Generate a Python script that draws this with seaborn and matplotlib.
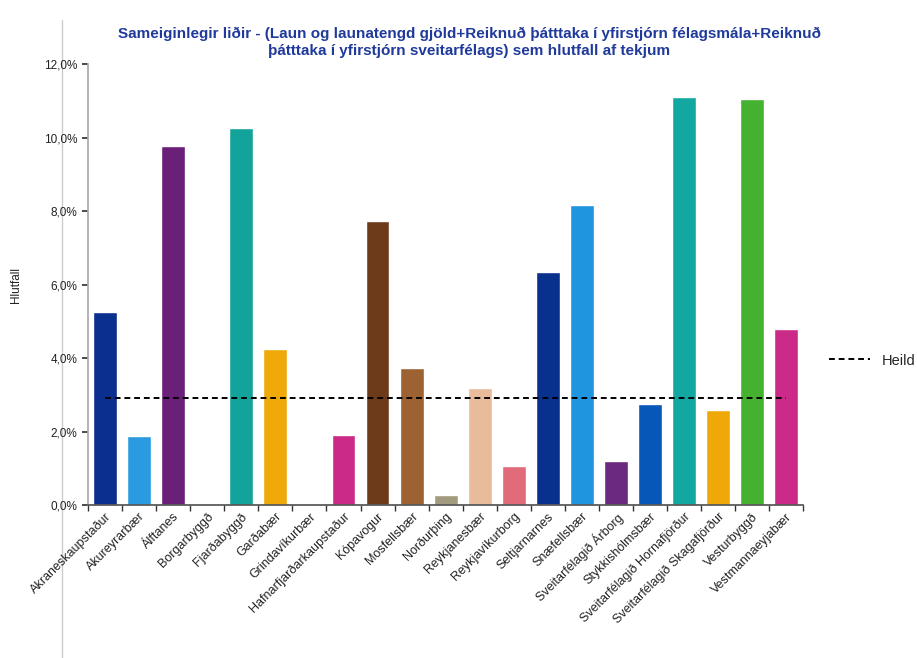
import matplotlib
matplotlib.use("Agg")
import matplotlib.pyplot as plt
import matplotlib.lines as mlines
from matplotlib.ticker import FuncFormatter
import pandas as pd
import seaborn as sns

# Data
categories = [
    "Akraneskaupstaður", "Akureyrarbær", "Álftanes", "Borgarbyggð",
    "Fjarðabyggð", "Garðabær", "Grindavíkurbær", "Hafnarfjarðarkaupstaður",
    "Kópavogur", "Mosfellsbær", "Norðurþing", "Reykjanesbær",
    "Reykjavíkurborg", "Seltjarnarnes", "Snæfellsbær",
    "Sveitarfélagið Árborg", "Stykkishólmsbær",
    "Sveitarfélagið Hornafjörður", "Sveitarfélagið Skagafjörður",
    "Vesturbyggð", "Vestmannaeyjabær",
]
values = [5.25, 1.88, 9.77, 0.0, 10.26, 4.24, 0.0, 1.90, 7.73, 3.73, 0.27,
          3.18, 1.06, 6.34, 8.16, 1.20, 2.75, 11.10, 2.58, 11.05, 4.79]
heild = 2.91
bar_colors = [
    "#0a2f8f", "#2a9be0", "#6a1f78", "#cccccc", "#14a39b", "#efaa0a",
    "#cccccc", "#cc2a88", "#6e3b1a", "#9c6232", "#a39b7d", "#e8bb9a",
    "#e26b7a", "#08318e", "#1f95df", "#6b2a80", "#0757b8", "#12a8a1",
    "#efa80a", "#45b131", "#cc2a88",
]
title = ("Sameiginlegir liðir - (Laun og launatengd gjöld+Reiknuð þátttaka í yfirstjórn félagsmála+Reiknuð\n"
         "þátttaka í yfirstjórn sveitarfélags) sem hlutfall af tekjum")

df = pd.DataFrame({"cat": categories, "val": values})

sns.set_theme(style="white")
plt.rcParams["font.family"] = ["Liberation Sans", "DejaVu Sans"]

fig = plt.figure(figsize=(9.17, 6.58), dpi=100)
ax = fig.add_axes([0.096, 0.2325, 0.78, 0.67])

sns.barplot(data=df, x="cat", y="val", hue="cat", palette=bar_colors,
            legend=False, width=0.7, saturation=1, ax=ax)

# average line
ax.plot(range(len(categories)), [heild] * len(categories), color="black",
        linestyle="--", linewidth=1.4, dashes=(3, 2))

ax.set_xlim(-0.5, len(categories) - 0.5)
ax.set_ylim(0, 12)
ax.set_yticks([0, 2, 4, 6, 8, 10, 12])
ax.yaxis.set_major_formatter(FuncFormatter(lambda v, p: f"{v:.1f}%".replace(".", ",")))
ax.tick_params(axis="y", labelsize=8.5, length=4, direction="out", left=True,
               color="#333333", labelcolor="#222222")
ax.set_xticks([i + 0.5 for i in range(-1, len(categories))], minor=True)
ax.set_xticks(range(len(categories)))
ax.set_xticklabels(categories, rotation=45, ha="right", rotation_mode="anchor",
                   fontsize=9, color="#222222")
ax.tick_params(axis="x", which="major", length=0, pad=4)
ax.tick_params(axis="x", which="minor", length=4, direction="out", bottom=True, color="#333333")
ax.set_xlabel("")
ax.set_ylabel("Hlutfall", fontsize=8.5, labelpad=16, color="#222222")

for side in ["top", "right"]:
    ax.spines[side].set_visible(False)
ax.spines["left"].set_color("#aaaaaa")
ax.spines["bottom"].set_color("#555555")

fig.text(0.512, 0.935, title, ha="center", va="center", fontsize=11,
         fontweight="bold", color="#1f3a9a", linespacing=1.25)

# chart-area border line at left
fig.add_artist(mlines.Line2D([0.068, 0.068], [0.0, 0.97], color="#cccccc", linewidth=1,
                             zorder=0))

handle = mlines.Line2D([], [], color="black", linestyle="--", linewidth=1.4, dashes=(3, 2))
fig.legend([handle], ["Heild"], loc="center left", bbox_to_anchor=(0.89, 0.452),
           frameon=False, fontsize=10.5, handlelength=2.8)

fig.savefig("out.png", dpi=100)
